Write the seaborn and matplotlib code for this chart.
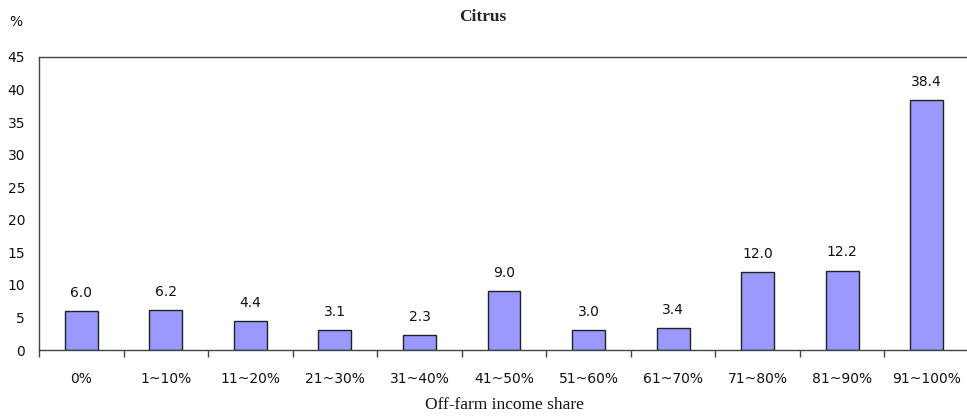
import matplotlib
matplotlib.use("Agg")
import matplotlib.pyplot as plt
import seaborn as sns
import pandas as pd
import numpy as np

categories = ["0%", "1~10%", "11~20%", "21~30%", "31~40%", "41~50%",
              "51~60%", "61~70%", "71~80%", "81~90%", "91~100%"]
shares = [6.0, 6.2, 4.4, 3.1, 2.3, 9.0, 3.0, 3.4, 12.0, 12.2, 38.4]
y_ticks = [0, 5, 10, 15, 20, 25, 30, 35, 40, 45]

sns.set_style("white")
plt.rcParams["font.family"] = ["DejaVu Sans"]

df = pd.DataFrame({"band": categories, "share": shares})

fig = plt.figure(figsize=(9.67, 4.19), dpi=100)
ax = fig.add_axes([39 / 967, 1 - 350 / 419, 930 / 967, 293 / 419])

sns.barplot(data=df, x="band", y="share", ax=ax, color="#9999FF",
            saturation=1, width=0.39, edgecolor="#222222", linewidth=1.0)

ax.set_xlim(-0.5, len(categories) - 0.5)
ax.set_ylim(0, 45)
ax.set_yticks(y_ticks)
ax.set_yticklabels([str(v) for v in y_ticks], fontsize=10, color="#111111")
ax.tick_params(axis="y", length=0, pad=10)

# category boundaries carry the tick marks, labels sit at the bar centres
ax.set_xticks(np.arange(len(categories) + 1) - 0.5)
ax.set_xticklabels([])
ax.tick_params(axis="x", which="major", direction="out", length=5,
               width=1, color="#444444", bottom=True)
ax.set_xticks(np.arange(len(categories)), minor=True)
ax.set_xticklabels(categories, minor=True, fontsize=10, color="#111111")
ax.tick_params(axis="x", which="minor", length=0, pad=16)

for s in ["left", "bottom", "top", "right"]:
    ax.spines[s].set_visible(True)
    ax.spines[s].set_color("#444444")
    ax.spines[s].set_linewidth(1.0)

for i, v in enumerate(shares):
    ax.annotate(f"{v:.1f}", (i, v), xytext=(0, 8), textcoords="offset points",
                ha="center", va="bottom", fontsize=10, color="#111111")

ax.set_xlabel("Off-farm income share", family=["Liberation Serif"],
              fontsize=12.5, labelpad=8, color="#111111")
ax.set_ylabel("")

fig.text(483 / 967, 1 - 17 / 419, "Citrus", family=["Liberation Serif"],
         fontweight="bold", fontsize=12.5, ha="center", va="center")
fig.text(16 / 967, 1 - 22 / 419, "%", fontsize=10, ha="center", va="center",
         color="#111111")

fig.savefig("out.png", dpi=100, facecolor="white")
